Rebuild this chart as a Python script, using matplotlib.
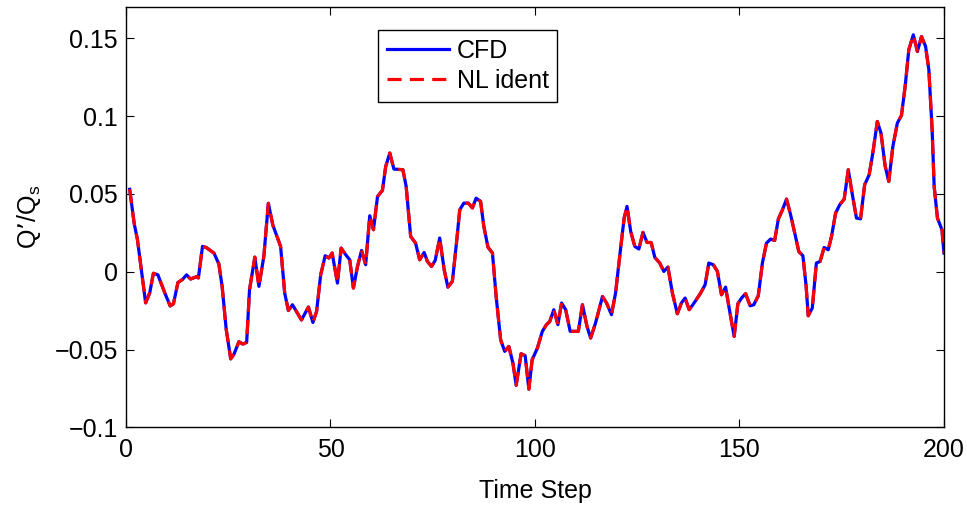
import numpy as np
import matplotlib
matplotlib.use("Agg")
import matplotlib.pyplot as plt

plt.rcParams["font.family"] = ["Liberation Sans", "DejaVu Sans"]
plt.rcParams["mathtext.default"] = "regular"

# vertices (time step, Q'/Qs)
time_step = [
    0.9, 2.0, 2.8, 4.8, 5.8, 6.7, 7.8, 9.5, 10.8, 11.6, 12.7, 13.8, 14.8, 15.8,
    17.4, 17.7, 18.7, 19.6, 21.5, 22.7, 23.5, 24.5, 25.6, 26.4, 27.6, 28.6,
    29.5, 30.2, 31.5, 32.5, 33.7, 34.8, 35.9, 37.8, 38.8, 39.7, 40.7, 42.9,
    44.6, 45.7, 46.6, 47.6, 48.7, 49.6, 50.4, 51.7, 52.6, 53.7, 54.7, 55.6,
    56.6, 57.6, 58.6, 59.6, 60.5, 61.5, 62.7, 63.5, 64.5, 65.5, 67.7, 68.5,
    69.6, 70.8, 71.8, 72.9, 73.7, 74.7, 75.6, 76.7, 77.8, 78.7, 79.8, 80.8,
    81.6, 82.6, 83.7, 84.7, 85.6, 86.7, 87.5, 88.5, 89.6, 90.5, 91.6, 92.6,
    93.6, 94.6, 95.4, 96.6, 97.6, 98.5, 99.3, 100.6, 101.8, 102.8, 103.6,
    104.6, 105.6, 106.5, 107.5, 108.6, 110.6, 111.6, 112.7, 113.6, 114.8,
    116.5, 117.5, 118.7, 119.7, 120.8, 121.8, 122.5, 123.4, 124.4, 125.4,
    126.4, 127.4, 128.4, 129.3, 130.5, 131.5, 132.5, 133.6, 134.8, 135.8,
    136.7, 137.7, 138.9, 140.5, 141.6, 142.5, 143.6, 144.6, 145.6, 146.6,
    147.4, 148.7, 149.6, 150.5, 151.5, 152.6, 153.5, 154.6, 155.6, 156.6,
    157.6, 158.6, 159.5, 160.5, 161.5, 162.5, 163.6, 164.5, 165.5, 166.3,
    166.8, 167.8, 168.8, 169.7, 170.7, 171.7, 172.5, 173.5, 174.5, 175.6,
    176.6, 177.6, 178.6, 179.6, 180.6, 181.7, 182.6, 183.7, 184.6, 185.6,
    186.5, 187.5, 188.6, 189.6, 190.5, 191.4, 192.5, 193.5, 194.5, 195.5,
    196.3, 197.1, 197.6, 198.4, 199.5, 200.0,
]
cfd = [
    0.053, 0.031, 0.0206, -0.020, -0.0136, -0.001, -0.002, -0.0137, -0.022,
    -0.0206, -0.0069, -0.005, -0.002, -0.0047, -0.003, -0.004, 0.0163, 0.0156,
    0.012, 0.005, -0.0094, -0.037, -0.056, -0.053, -0.045, -0.0465, -0.0454,
    -0.0116, 0.0094, -0.0094, 0.0098, 0.044, 0.030, 0.0163, -0.0137, -0.0249,
    -0.0212, -0.031, -0.0227, -0.0326, -0.0255, -0.002, 0.0103, 0.0088, 0.012,
    -0.0073, 0.0152, 0.011, 0.0077, -0.0105, 0.0034, 0.0137, 0.0045, 0.036,
    0.027, 0.0484, 0.0523, 0.0677, 0.0763, 0.066, 0.0656, 0.0548, 0.0227,
    0.0184, 0.0077, 0.0124, 0.0066, 0.0034, 0.0073, 0.0217, 0.0013, -0.0099,
    -0.0062, 0.0184, 0.0398, 0.0441, 0.0441, 0.041, 0.0473, 0.0452, 0.029,
    0.0158, 0.012, -0.0159, -0.0437, -0.0512, -0.048, -0.0587, -0.073,
    -0.0527, -0.054, -0.0755, -0.0566, -0.049, -0.0383, -0.034, -0.032,
    -0.0244, -0.034, -0.0201, -0.0244, -0.0383, -0.0383, -0.0212, -0.035,
    -0.0426, -0.033, -0.0159, -0.0201, -0.0276, -0.0137, 0.012, 0.0345, 0.042,
    0.0259, 0.0163, 0.0146, 0.0253, 0.0188, 0.0188, 0.0092, 0.0056, 0.0002,
    0.003, -0.0137, -0.027, -0.0201, -0.0169, -0.0244, -0.0201, -0.0137,
    -0.0083, 0.0056, 0.0045, 0.0002, -0.0148, -0.0099, -0.0223, -0.0416,
    -0.0206, -0.0169, -0.0141, -0.0219, -0.0212, -0.0154, 0.0056, 0.0184,
    0.021, 0.0201, 0.0339, 0.0398, 0.0467, 0.0366, 0.0238, 0.013, 0.0103,
    -0.0094, -0.0283, -0.0233, 0.0056, 0.0066, 0.0156, 0.0141, 0.0227, 0.0377,
    0.043, 0.0467, 0.0656, 0.0495, 0.0345, 0.034, 0.0559, 0.0623, 0.0763,
    0.0966, 0.0891, 0.0681, 0.058, 0.0805, 0.0956, 0.1005, 0.119, 0.1427,
    0.1523, 0.1416, 0.1512, 0.1448, 0.1298, 0.0913, 0.0548, 0.0345, 0.027,
    0.012,
]
# the identified model lies on top of the CFD curve
nl_ident = list(cfd)

x_ticks = [0, 50, 100, 150, 200]
y_ticks = [-0.1, -0.05, 0, 0.05, 0.1, 0.15]
y_tick_labels = ["\u22120.1", "\u22120.05", "0", "0.05", "0.1", "0.15"]

fig = plt.figure(figsize=(9.67, 5.09), dpi=100)
ax = fig.add_axes([0.1303, 0.1605, 0.8459, 0.8252])

ax.plot(time_step, cfd, color="#0000ff", linewidth=2.3, label="CFD")
ax.plot(time_step, nl_ident, color="#ff0000", linewidth=2.3,
        linestyle=(0, (4.4, 2.6)), label="NL ident")

ax.set_xlim(0, 200)
ax.set_ylim(-0.1, 0.17)
ax.set_xticks(x_ticks)
ax.set_yticks(y_ticks)
ax.set_yticklabels(y_tick_labels)
ax.tick_params(direction="in", length=6, width=0.8, labelsize=18,
               top=True, right=True, pad=6)
ax.tick_params(axis="x", pad=8)
for s in ax.spines.values():
    s.set_linewidth(1.0)

ax.set_xlabel("Time Step", fontsize=18, labelpad=12)
ax.set_ylabel("Q\u2019/Q$_s$", fontsize=18, labelpad=8)

leg = ax.legend(loc="upper left", bbox_to_anchor=(0.308, 0.946),
                borderaxespad=0, fontsize=18, fancybox=False, framealpha=1,
                edgecolor="black", handlelength=2.5, handletextpad=0.3,
                labelspacing=0.25, borderpad=0.35)
leg.get_frame().set_linewidth(1.0)

fig.savefig("out.png", dpi=100)
